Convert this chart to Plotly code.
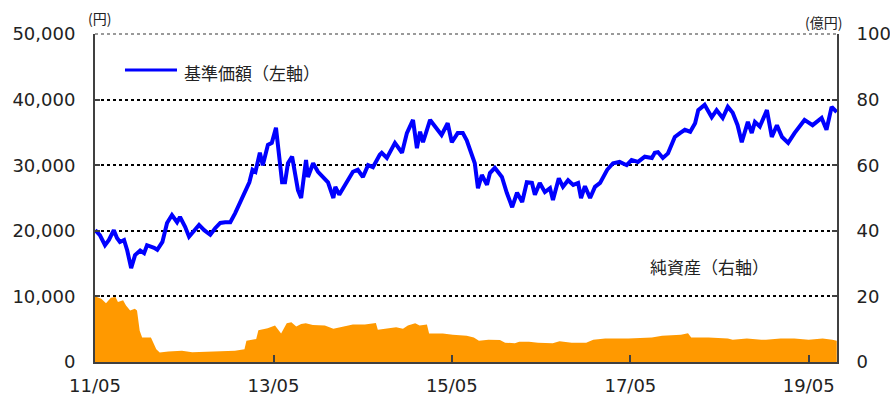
import plotly.graph_objects as go

# 基準価額（円）
nav_dates = [
    "2011-05-02", "2011-05-21", "2011-06-11", "2011-06-27", "2011-07-17", "2011-07-30",
    "2011-08-11", "2011-08-28", "2011-09-10", "2011-09-26", "2011-10-12", "2011-11-02",
    "2011-11-18", "2011-11-30", "2011-12-29", "2012-01-11", "2012-02-01", "2012-02-20",
    "2012-03-11", "2012-04-01", "2012-04-13", "2012-05-04", "2012-05-20", "2012-06-10",
    "2012-06-30", "2012-07-21", "2012-08-02", "2012-08-15", "2012-09-04", "2012-09-25",
    "2012-10-15", "2012-11-05", "2012-11-25", "2012-12-16", "2013-01-06", "2013-01-22",
    "2013-02-04", "2013-02-16", "2013-03-06", "2013-03-18", "2013-04-08", "2013-04-24",
    "2013-05-11", "2013-05-19", "2013-06-05", "2013-06-17", "2013-06-29", "2013-07-16",
    "2013-07-28", "2013-08-09", "2013-08-22", "2013-09-11", "2013-09-19", "2013-10-10",
    "2013-10-30", "2013-11-20", "2013-12-10", "2014-01-01", "2014-01-09", "2014-01-25",
    "2014-02-10", "2014-03-01", "2014-03-22", "2014-04-11", "2014-05-02", "2014-05-23",
    "2014-06-12", "2014-07-10", "2014-07-18", "2014-08-08", "2014-09-10", "2014-10-09",
    "2014-10-29", "2014-11-23", "2014-12-09", "2014-12-22", "2015-01-03", "2015-02-01",
    "2015-02-22", "2015-03-20", "2015-04-14", "2015-05-01", "2015-05-25", "2015-06-15",
    "2015-07-01", "2015-07-21", "2015-08-03", "2015-08-16", "2015-09-01", "2015-09-22",
    "2015-10-04", "2015-10-24", "2015-11-22", "2015-12-12", "2016-01-03", "2016-01-23",
    "2016-02-13", "2016-03-03", "2016-03-24", "2016-04-05", "2016-04-25", "2016-05-16",
    "2016-06-06", "2016-06-18", "2016-07-12", "2016-07-29", "2016-08-19", "2016-09-09",
    "2016-09-29", "2016-10-11", "2016-10-27", "2016-11-17", "2016-12-07", "2016-12-28",
    "2017-01-26", "2017-02-19", "2017-03-18", "2017-04-16", "2017-05-06", "2017-06-01",
    "2017-06-29", "2017-07-28", "2017-08-09", "2017-08-22", "2017-09-11", "2017-10-02",
    "2017-10-30", "2017-11-20", "2017-12-10", "2018-01-01", "2018-01-21", "2018-02-03",
    "2018-03-01", "2018-03-30", "2018-04-19", "2018-05-14", "2018-06-04", "2018-06-24",
    "2018-07-14", "2018-07-31", "2018-08-12", "2018-08-25", "2018-09-10", "2018-09-23",
    "2018-10-13", "2018-11-11", "2018-12-01", "2018-12-22", "2019-01-12", "2019-02-06",
    "2019-03-04", "2019-04-14", "2019-05-17", "2019-06-23", "2019-07-13", "2019-08-03",
    "2019-08-24",
]
nav_values = [
    20100, 19350, 17800, 18600, 20100, 18900,
    18300, 18600, 17000, 14300, 16300, 17000,
    16600, 17800, 17400, 17100, 18300, 21200,
    22400, 21300, 22100, 20600, 19100, 20100,
    20900, 20100, 19800, 19400, 20400, 21200,
    21300, 21300, 22700, 24400, 25900, 27400,
    29300, 29000, 31900, 30000, 33100, 33400,
    35700, 33400, 27400, 27400, 30300, 31300,
    28800, 26200, 25000, 30800, 28200, 30300,
    29000, 28200, 27400, 25000, 26700, 25500,
    26500, 27400, 29000, 29300, 28200, 30000,
    29700, 31600, 31900, 31100, 33400, 31900,
    34900, 36900, 32600, 35100, 33500, 36900,
    35800, 34600, 36400, 33500, 34900, 34900,
    33800, 31900, 30300, 26500, 28500, 27000,
    28800, 29600, 28200, 25800, 23600, 25800,
    24400, 27400, 27300, 25500, 27300, 25900,
    26500, 24700, 28000, 26700, 27700, 27000,
    27300, 25000, 26800, 25000, 26700, 27300,
    29300, 30300, 30500, 30000, 30800, 30500,
    31300, 31100, 31900, 32000, 31100, 31800,
    34300, 34900, 35400, 35100, 36400, 38400,
    39200, 37300, 38400, 37200, 38900, 38000,
    36100, 33500, 35100, 36600, 34900, 36600,
    35900, 38400, 34300, 36100, 34300, 33400,
    34900, 36900, 36100, 37200, 35400, 38900,
    38100, 34300, 35400,
]

# 純資産（億円）
asset_dates = [
    "2011-05-01", "2011-05-08", "2011-05-27", "2011-06-15", "2011-07-05", "2011-07-24",
    "2011-08-03", "2011-08-24", "2011-09-05", "2011-09-22", "2011-10-11", "2011-10-20",
    "2011-10-31", "2011-11-10", "2011-11-29", "2011-12-16", "2012-01-07", "2012-01-21",
    "2012-02-25", "2012-04-21", "2012-06-02", "2012-07-29", "2012-11-24", "2013-01-02",
    "2013-01-10", "2013-02-19", "2013-02-28", "2013-04-07", "2013-05-07", "2013-06-01",
    "2013-06-24", "2013-07-13", "2013-08-02", "2013-08-22", "2013-09-10", "2013-10-09",
    "2013-11-27", "2014-01-01", "2014-02-03", "2014-03-22", "2014-05-10", "2014-06-24",
    "2014-07-02", "2014-08-04", "2014-09-15", "2014-10-13", "2014-11-02", "2014-12-02",
    "2014-12-20", "2015-01-19", "2015-01-28", "2015-03-25", "2015-05-05", "2015-07-01",
    "2015-07-30", "2015-08-20", "2015-09-28", "2015-11-14", "2015-12-05", "2016-01-14",
    "2016-02-01", "2016-03-12", "2016-04-18", "2016-06-17", "2016-07-15", "2016-09-03",
    "2016-11-01", "2016-11-30", "2017-01-18", "2017-04-23", "2017-07-28", "2017-09-08",
    "2017-11-24", "2017-12-23", "2018-01-05", "2018-03-17", "2018-06-04", "2018-06-24",
    "2018-08-21", "2018-10-19", "2018-11-07", "2019-01-06", "2019-03-03", "2019-05-01",
    "2019-06-27", "2019-08-06", "2019-08-24",
]
asset_values = [
    19.8, 19.8, 19.3, 17.9, 19.6, 19.8,
    18.3, 18.8, 17.2, 15.7, 16.2, 15.7,
    9.5, 7.5, 7.5, 7.5, 3.9, 2.9,
    3.2, 3.4, 3.0, 3.1, 3.4, 3.9,
    6.5, 7.0, 9.7, 10.3, 11.1, 8.7,
    11.8, 12.1, 10.8, 11.6, 11.8, 11.3,
    11.1, 10.1, 10.6, 11.4, 11.4, 11.9,
    9.8, 10.1, 10.6, 10.1, 11.1, 11.8,
    11.1, 11.4, 8.7, 8.7, 8.3, 8.0,
    7.5, 6.5, 6.8, 6.7, 5.9, 5.7,
    6.2, 6.2, 5.9, 5.7, 6.3, 5.9,
    5.9, 6.8, 7.2, 7.2, 7.5, 8.0,
    8.3, 8.8, 7.5, 7.5, 7.2, 6.8,
    7.2, 6.8, 6.8, 7.2, 7.2, 6.8,
    7.2, 6.8, 6.5,
]

x_start, x_end = "2011-05-01", "2019-08-25"
nav_ticks = [0, 10000, 20000, 30000, 40000, 50000]
asset_ticks = [0, 20, 40, 60, 80, 100]

ORANGE = "#FF9900"
BLUE = "#0000FF"
AXIS = "#404040"
TEXT = "#222222"
NUM_FONT = dict(family="DejaVu Sans, Verdana, sans-serif", size=18, color=TEXT)
JP_FONT = "Noto Sans CJK JP, DejaVu Sans, sans-serif"

fig = go.Figure()

fig.add_trace(go.Scatter(
    x=asset_dates, y=asset_values, yaxis="y2",
    mode="lines", line=dict(width=0, color=ORANGE),
    fill="tozeroy", fillcolor=ORANGE, showlegend=False, hoverinfo="skip",
))
fig.add_trace(go.Scatter(
    x=nav_dates, y=nav_values, yaxis="y",
    mode="lines", line=dict(width=4, color=BLUE),
    showlegend=False,
))

fig.update_layout(
    width=890, height=396,
    margin=dict(l=95, r=53, t=34, b=34, autoexpand=False),
    paper_bgcolor="white", plot_bgcolor="white",
    xaxis=dict(
        type="date", range=[x_start, x_end], automargin=False,
        tick0=x_start, dtick="M24", tickformat="%y/%m",
        ticks="inside", ticklen=7, tickwidth=1.5, tickcolor=AXIS,
        showline=True, linecolor=AXIS, linewidth=2,
        showgrid=False, zeroline=False,
        tickfont=NUM_FONT, ticklabelstandoff=6,
    ),
    yaxis=dict(
        range=[0, 50000], tickvals=nav_ticks, automargin=False,
        tickformat=",d",
        ticks="inside", ticklen=5, tickwidth=1.5, tickcolor=AXIS,
        showline=True, linecolor=AXIS, linewidth=2,
        showgrid=True, gridcolor="black", gridwidth=2, griddash="dot",
        zeroline=False, tickfont=NUM_FONT, ticklabelstandoff=14,
    ),
    yaxis2=dict(
        range=[0, 100], tickvals=asset_ticks, automargin=False,
        overlaying="y", side="right",
        ticks="inside", ticklen=5, tickwidth=1.5, tickcolor=AXIS,
        showline=True, linecolor=AXIS, linewidth=2,
        showgrid=False, zeroline=False, tickfont=NUM_FONT, ticklabelstandoff=14,
    ),
    shapes=[
        # top frame: light dashed border
        dict(type="line", xref="paper", yref="paper", x0=0, x1=1, y0=1, y1=1,
             line=dict(color="white", width=3)),
        dict(type="line", xref="paper", yref="paper", x0=0, x1=1, y0=1, y1=1,
             line=dict(color="#9a9a9a", width=2, dash="dot")),
        # legend sample line
        dict(type="line", xref="paper", yref="paper", x0=0.0404, x1=0.1105,
             y0=0.890, y1=0.890, line=dict(color=BLUE, width=3)),
    ],
    annotations=[
        dict(text="(円)", xref="paper", yref="paper", x=0.0067, y=1.05,
             xanchor="center", yanchor="middle", showarrow=False,
             font=dict(family=JP_FONT, size=14, color=TEXT)),
        dict(text="(億円)", xref="paper", yref="paper", x=0.982, y=1.037,
             xanchor="center", yanchor="middle", showarrow=False,
             font=dict(family=JP_FONT, size=14, color=TEXT)),
        dict(text="基準価額（左軸）", xref="paper", yref="paper", x=0.117, y=0.884,
             xanchor="left", yanchor="middle", showarrow=False,
             font=dict(family=JP_FONT, size=17, color=TEXT)),
        dict(text="純資産（右軸）", xref="paper", yref="paper", x=0.745, y=0.290,
             xanchor="left", yanchor="middle", showarrow=False,
             font=dict(family=JP_FONT, size=17, color=TEXT)),
    ],
)

fig.write_html("out.html")
